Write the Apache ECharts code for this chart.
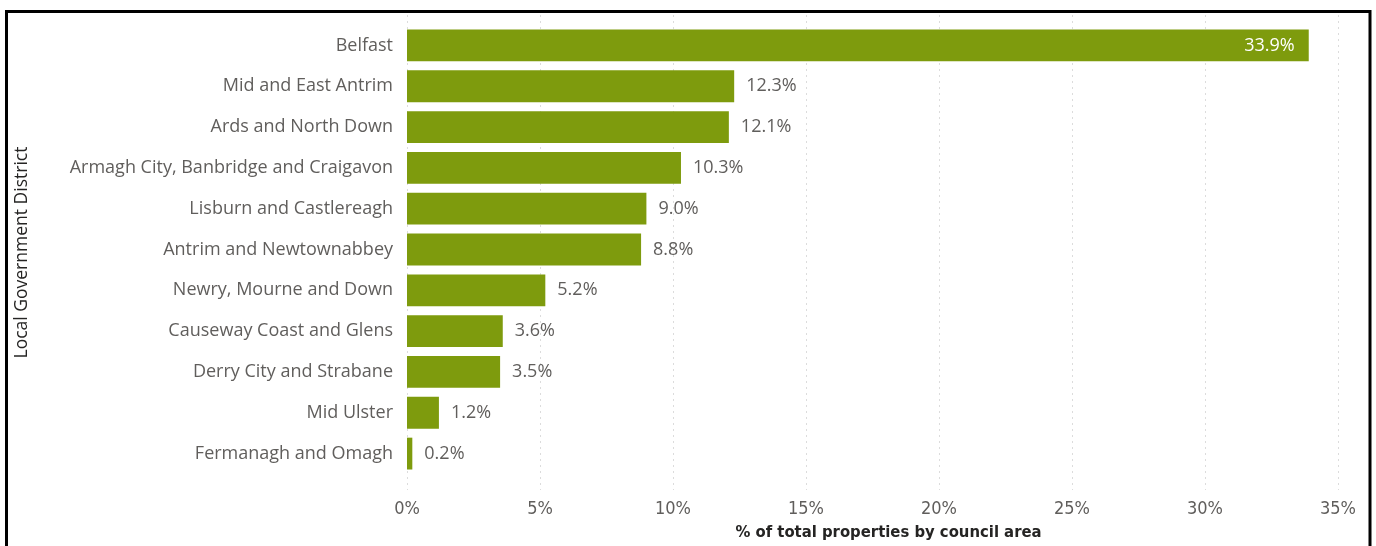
<!DOCTYPE html>
<html><head><meta charset="utf-8">
<script src="https://cdn.jsdelivr.net/npm/echarts@6/dist/echarts.min.js"></script>
<style>html,body{margin:0;padding:0;background:#fff}#c{width:1376px;height:546px}</style>
</head><body><div id="c"></div>
<script>
const categories = ["Belfast","Mid and East Antrim","Ards and North Down","Armagh City, Banbridge and Craigavon","Lisburn and Castlereagh","Antrim and Newtownabbey","Newry, Mourne and Down","Causeway Coast and Glens","Derry City and Strabane","Mid Ulster","Fermanagh and Omagh"];
const values = [33.9,12.3,12.1,10.3,9.0,8.8,5.2,3.6,3.5,1.2,0.2];
const xTicks = [0,5,10,15,20,25,30,35];

const chart = echarts.init(document.getElementById('c'), null, {renderer:'canvas'});
const catFont = '"Open Sans", "Noto Sans", sans-serif';
const dinFont = '"Liberation Sans Narrow", "DejaVu Sans Condensed", sans-serif';
chart.setOption({
  animation:false,
  backgroundColor:'#fff',
  graphic:[{type:'rect', shape:{x:6.5,y:11.5,width:1363.5,height:600}, style:{fill:'none', stroke:'#000', lineWidth:3}, z:100}],
  grid:[
    {left:407, right:38, top:25, bottom:62, containLabel:false},
    {left:407, right:38, top:15, bottom:56, containLabel:false}
  ],
  xAxis:[
    {gridIndex:0, type:'value', min:xTicks[0], max:xTicks[xTicks.length-1], interval:5,
     axisLine:{show:false}, axisTick:{show:false}, splitLine:{show:false},
     axisLabel:{show:false},
     name:'% of total properties by council area', nameLocation:'middle', nameGap:50,
     nameTextStyle:{fontFamily:dinFont, fontWeight:'bold', fontSize:16.5, color:'#252423', padding:[0,0,0,32]}},
    {gridIndex:1, type:'value', min:xTicks[0], max:xTicks[xTicks.length-1], interval:5,
     axisLine:{show:false}, axisTick:{show:false},
     splitLine:{show:true, lineStyle:{color:'#dcdcdc', type:[2,4], width:1}},
     axisLabel:{show:true, margin:10, formatter:v=>v+'%', fontFamily:dinFont, fontSize:18, color:'#605E5C'}}
  ],
  yAxis:[
    {gridIndex:0, type:'category', data:categories, inverse:true,
     axisLine:{show:false}, axisTick:{show:false},
     axisLabel:{margin:14, fontFamily:catFont, fontSize:18, color:'#605E5C'},
     name:'Local Government District', nameLocation:'middle', nameGap:376, nameRotate:90,
     nameTextStyle:{fontFamily:catFont, fontSize:17.5, color:'#252423', padding:[0,6,0,0]}},
    {gridIndex:1, type:'category', data:categories, show:false}
  ],
  series:[{
    type:'bar', xAxisIndex:0, yAxisIndex:0, barWidth:'78%',
    itemStyle:{color:'#7E9B0D'},
    data: values.map((v,i)=>({value:v, label: i===0 ? {position:'insideRight', color:'#fff', distance:14} : {}})),
    label:{show:true, position:'right', distance:12, formatter:p=>p.value.toFixed(1)+'%',
      fontFamily:catFont, fontSize:18, color:'#605E5C'}
  }]
});
</script></body></html>
